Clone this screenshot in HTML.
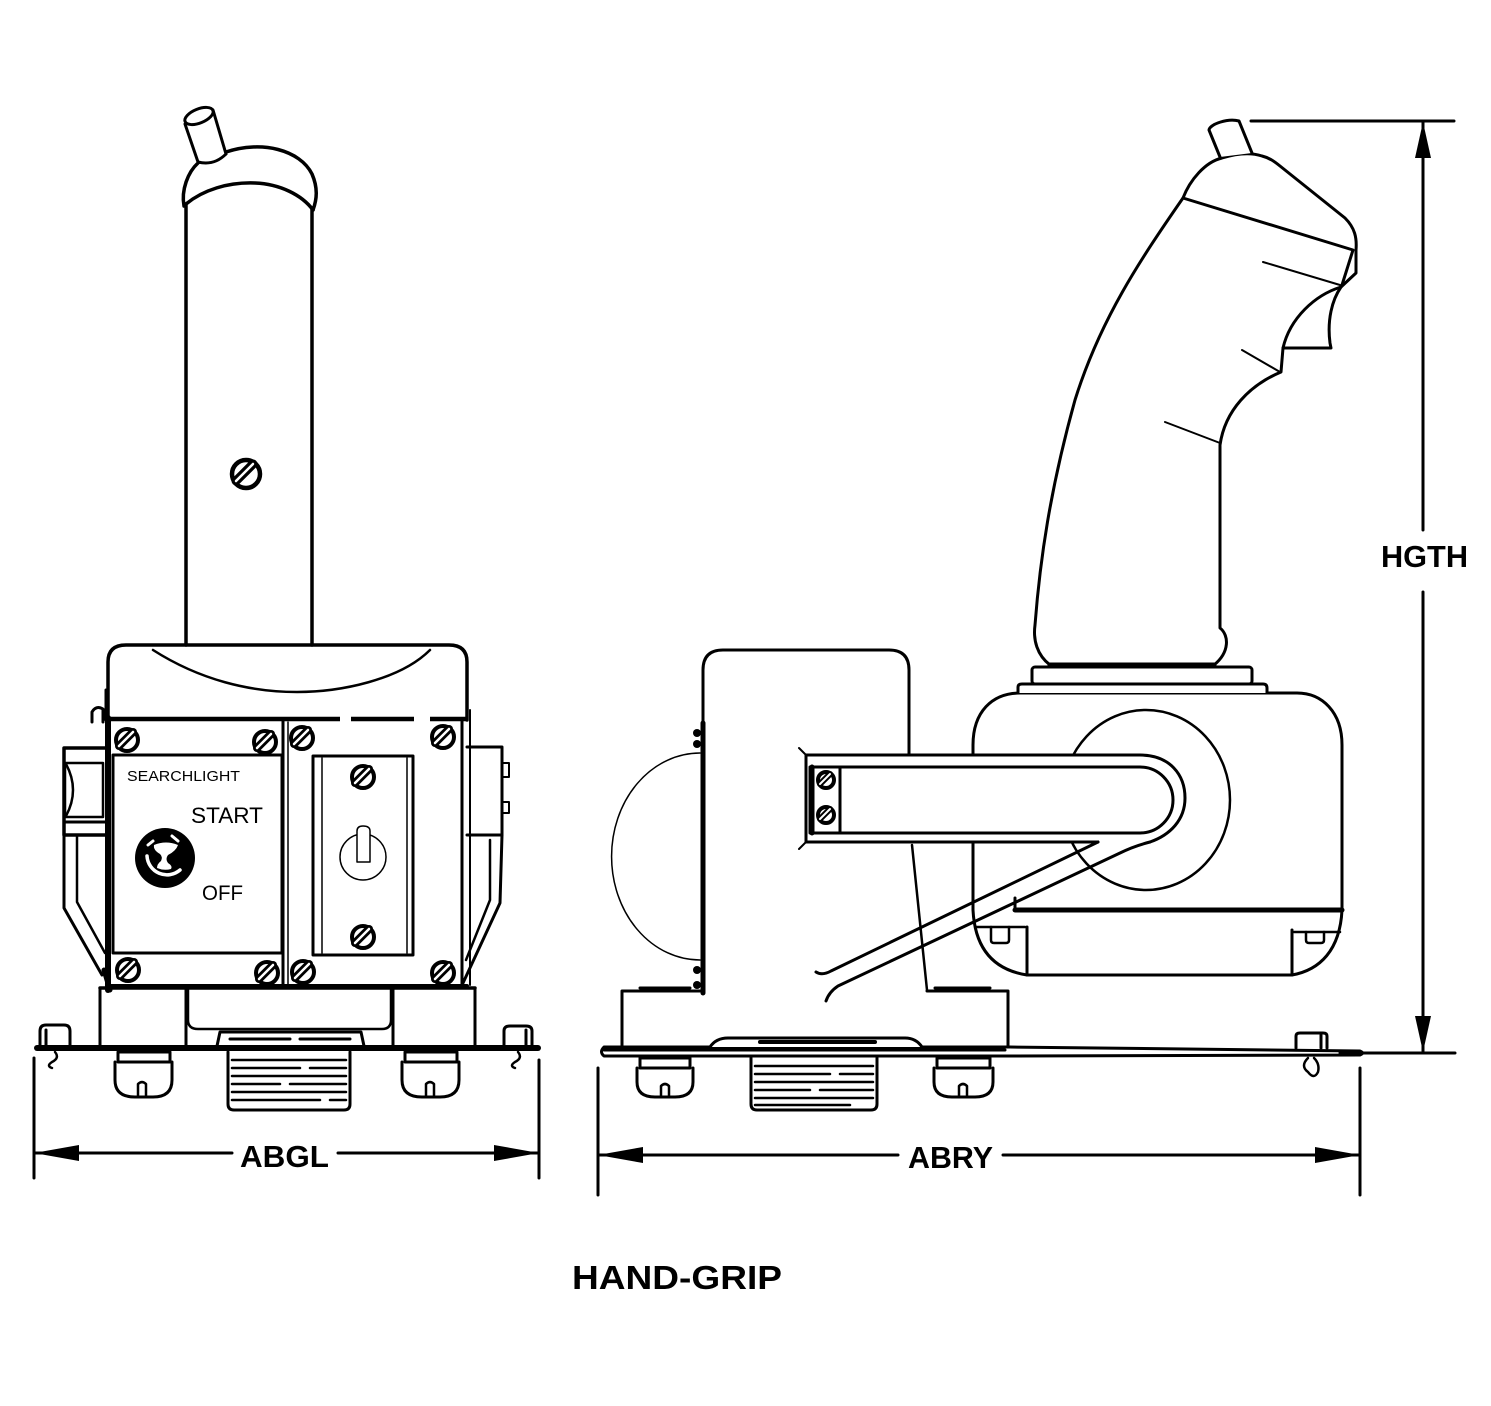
<!DOCTYPE html>
<html><head><meta charset="utf-8"><style>
html,body{margin:0;padding:0;background:#fff;}
svg{display:block;}
text{font-family:"Liberation Sans",Arial,sans-serif;}
</style></head><body>
<svg width="1491" height="1406" viewBox="0 0 1491 1406" xmlns="http://www.w3.org/2000/svg">
<rect width="1491" height="1406" fill="#fff"/>
<g fill="none" stroke="#000" stroke-width="3" stroke-linejoin="round" stroke-linecap="round">

<!-- ================= LEFT DEVICE ================= -->
<!-- pin -->
<path d="M198,162 L185,124 M226,154 L213,110"/>
<ellipse cx="199" cy="116" rx="15" ry="7" transform="rotate(-22 199 116)"/>
<path d="M198,162 Q214,166 226,154"/>
<!-- dome cap -->
<path d="M184,206 C181,190 188,172 198,163" stroke-width="3.5"/>
<path d="M226,152 C262,140 300,150 312,174 C318,188 317,199 313,210" stroke-width="3.5"/>
<path d="M186,204 C203,190 228,182 255,183 C280,184 302,195 313,210" stroke-width="3.5"/>
<!-- tube -->
<path d="M186,204 L186,645 M312,208 L312,645" stroke-width="3.5"/>
<!-- tube screw -->
<g transform="translate(246,474)">
<circle r="14" fill="#fff" stroke-width="4.5"/>
<line x1="-10" y1="7" x2="7" y2="-10" stroke-width="9"/>
<line x1="-10" y1="7" x2="7" y2="-10" stroke="#fff" stroke-width="2.5"/>
</g>

<!-- housing top -->
<path d="M108,720 L108,662 Q108,645 126,645 L449,645 Q467,645 467,662 L467,720" stroke-width="3.5"/>
<path d="M153,650 C200,680 250,692 297,692 C340,692 400,680 430,650" stroke-width="2.5"/>
<path d="M108,719 L340,719 M351,719 L414,719 M430,719 L467,719" stroke-width="4.5" stroke-linecap="butt"/>

<!-- brackets left -->
<path d="M106,690 L106,720" stroke-width="3"/>
<path d="M92,722 L92,712 Q96,705 103,709 L103,722" stroke-width="3"/>
<path d="M106,748 L64,748 L64,835 L106,835" stroke-width="3.5"/>
<rect x="65" y="763" width="38" height="54" stroke-width="2.5"/>
<path d="M66,764 Q80,790 66,816" stroke-width="2.5"/>
<path d="M64,822 L106,822" stroke-width="3"/>
<path d="M64,835 L64,908 L102,975" stroke-width="3"/>
<path d="M77,837 L77,902 L105,953" stroke-width="2.5"/>
<!-- brackets right -->
<path d="M470,710 L470,985" stroke-width="2"/>
<path d="M467,747 L502,747 L502,835 L467,835" stroke-width="3"/>
<path d="M502,763 L509,763 L509,777 L502,777 M502,802 L509,802 L509,813 L502,813" stroke-width="2"/>
<path d="M502,835 L500,903 L463,983" stroke-width="3"/>
<path d="M490,840 L490,900 L466,960" stroke-width="2.5"/>

<!-- frame -->
<path d="M108,718 L108,990" stroke-width="6"/>
<path d="M462,720 L462,988" stroke-width="3"/>
<path d="M283,720 L283,988" stroke-width="3"/>
<path d="M288,722 L288,986" stroke-width="1.5"/>
<path d="M104,970 L110,990" stroke-width="5"/>
<!-- left panel -->
<rect x="113" y="755" width="169" height="198" fill="#fff" stroke-width="3"/>
<!-- right panel inner -->
<rect x="313" y="756" width="100" height="199" stroke-width="3"/>
<path d="M322,758 L322,953 M407,758 L407,953" stroke-width="1.5"/>
<!-- toggle -->
<circle cx="363" cy="857" r="23" stroke-width="1.5"/>
<path d="M357,862 L357,831 Q357,826 363,826 Q370,826 370,831 L370,862 Z" fill="#fff" stroke-width="1.5"/>
<!-- key switch -->
<circle cx="165" cy="858" r="30" fill="#000" stroke="none"/>
<path d="M154,845 Q166,840 178,845 Q176,851 168,855 Q165,859 168,863 Q173,866 171,869 Q164,871 157,868 Q157,864 161,861 Q163,857 160,854 Q153,850 154,845 Z" fill="#fff" stroke="none"/>
<path d="M147,856 A20,20 0 0 0 180,870" stroke="#fff" stroke-width="3.5"/>
<path d="M148,845 L153,841" stroke="#fff" stroke-width="3"/>
<path d="M172,836 L178,841" stroke="#fff" stroke-width="3"/>
<!-- frame bottom -->
<path d="M108,986 L467,986" stroke-width="4"/>

<!-- screws left device -->
<g stroke-width="4">
<g transform="translate(127,740)"><circle r="11" fill="#fff"/><line x1="-8" y1="6" x2="6" y2="-8" stroke-width="8"/><line x1="-8" y1="6" x2="6" y2="-8" stroke="#fff" stroke-width="2.5"/></g>
<g transform="translate(265,742)"><circle r="11" fill="#fff"/><line x1="-8" y1="6" x2="6" y2="-8" stroke-width="8"/><line x1="-8" y1="6" x2="6" y2="-8" stroke="#fff" stroke-width="2.5"/></g>
<g transform="translate(128,970)"><circle r="11" fill="#fff"/><line x1="-8" y1="6" x2="6" y2="-8" stroke-width="8"/><line x1="-8" y1="6" x2="6" y2="-8" stroke="#fff" stroke-width="2.5"/></g>
<g transform="translate(267,973)"><circle r="11" fill="#fff"/><line x1="-8" y1="6" x2="6" y2="-8" stroke-width="8"/><line x1="-8" y1="6" x2="6" y2="-8" stroke="#fff" stroke-width="2.5"/></g>
<g transform="translate(302,738)"><circle r="11" fill="#fff"/><line x1="-8" y1="6" x2="6" y2="-8" stroke-width="8"/><line x1="-8" y1="6" x2="6" y2="-8" stroke="#fff" stroke-width="2.5"/></g>
<g transform="translate(443,737)"><circle r="11" fill="#fff"/><line x1="-8" y1="6" x2="6" y2="-8" stroke-width="8"/><line x1="-8" y1="6" x2="6" y2="-8" stroke="#fff" stroke-width="2.5"/></g>
<g transform="translate(303,972)"><circle r="11" fill="#fff"/><line x1="-8" y1="6" x2="6" y2="-8" stroke-width="8"/><line x1="-8" y1="6" x2="6" y2="-8" stroke="#fff" stroke-width="2.5"/></g>
<g transform="translate(443,973)"><circle r="11" fill="#fff"/><line x1="-8" y1="6" x2="6" y2="-8" stroke-width="8"/><line x1="-8" y1="6" x2="6" y2="-8" stroke="#fff" stroke-width="2.5"/></g>
<g transform="translate(363,777)"><circle r="11" fill="#fff"/><line x1="-8" y1="6" x2="6" y2="-8" stroke-width="8"/><line x1="-8" y1="6" x2="6" y2="-8" stroke="#fff" stroke-width="2.5"/></g>
<g transform="translate(363,937)"><circle r="11" fill="#fff"/><line x1="-8" y1="6" x2="6" y2="-8" stroke-width="8"/><line x1="-8" y1="6" x2="6" y2="-8" stroke="#fff" stroke-width="2.5"/></g>
</g>

<!-- base -->
<path d="M100,988 L475,988" stroke-width="3.5"/>
<path d="M100,988 L100,1046 M186,988 L186,1046 M393,988 L393,1046 M475,988 L475,1046" stroke-width="3"/>
<path d="M188,990 L188,1020 Q188,1029 198,1029 L382,1029 Q391,1029 391,1020 L391,990" stroke-width="2.5"/>
<path d="M217,1046 L220,1032 L361,1032 L364,1046" stroke-width="3"/>
<path d="M230,1039 L290,1039 M300,1039 L350,1039" stroke-width="3"/>
<!-- clips -->
<path d="M40,1046 L40,1031 Q40,1025 46,1025 L64,1025 Q70,1025 70,1031 L70,1046 M46,1030 L46,1046" stroke-width="3"/>
<path d="M504,1046 L504,1031 Q504,1026 510,1026 L526,1026 Q532,1026 532,1031 L532,1046 M526,1030 L526,1046" stroke-width="3"/>
<path d="M55,1052 Q60,1058 52,1062 Q46,1066 52,1068" stroke-width="2.5"/>
<path d="M518,1052 Q523,1058 515,1062 Q509,1066 515,1068" stroke-width="2.5"/>
<!-- plate -->
<path d="M37,1048 L538,1048" stroke-width="6"/>
<!-- screws under plate -->
<rect x="118" y="1052" width="52" height="10" stroke-width="3"/>
<path d="M115,1062 L115,1080 Q115,1097 135,1097 L153,1097 Q172,1097 172,1080 L172,1062" stroke-width="3"/>
<path d="M138,1097 L138,1084 Q142,1080 146,1084 L146,1097" stroke-width="2.5"/>
<rect x="405" y="1052" width="52" height="10" stroke-width="3"/>
<path d="M402,1062 L402,1080 Q402,1097 422,1097 L440,1097 Q459,1097 459,1080 L459,1062" stroke-width="3"/>
<path d="M426,1097 L426,1084 Q430,1080 434,1084 L434,1097" stroke-width="2.5"/>
<!-- connector thread -->
<path d="M228,1052 L228,1104 Q228,1110 234,1110 L344,1110 Q350,1110 350,1104 L350,1052" stroke-width="3"/>
<path d="M232,1060 L346,1060 M232,1068 L300,1068 M310,1068 L346,1068 M232,1076 L346,1076 M232,1084 L280,1084 M290,1084 L346,1084 M232,1092 L346,1092 M232,1100 L320,1100 M330,1100 L346,1100" stroke-width="2.5"/>

<!-- ================= RIGHT DEVICE ================= -->
<!-- dome half ellipse -->
<path d="M700,753 A88,103 0 0 0 700,960" stroke-width="1.5"/>
<!-- column -->
<path d="M703,990 L703,670 Q703,650 723,650 L889,650 Q909,650 909,670 L909,755" stroke-width="3"/>
<path d="M703,723 L703,993" stroke-width="5"/>
<circle cx="697" cy="733" r="4" fill="#000" stroke="none"/>
<circle cx="697" cy="744" r="4" fill="#000" stroke="none"/>
<circle cx="697" cy="970" r="4" fill="#000" stroke="none"/>
<circle cx="697" cy="985" r="4" fill="#000" stroke="none"/>
<path d="M912,845 L927,990" stroke-width="2.5"/>
<!-- base block -->
<path d="M622,1048 L622,991 L703,991 M927,991 L1008,991 L1008,1048" stroke-width="3"/>
<path d="M640,988 L690,988 M935,988 L990,988" stroke-width="3"/>

<!-- box -->
<path d="M973,910 L973,745 C973,712 992,693 1020,693 L1297,693 C1322,693 1342,712 1342,745 L1342,910 C1340,950 1320,970 1292,975 L1027,975 C995,970 975,950 973,910 Z" fill="#fff" stroke-width="3"/>
<path d="M1015,910 L1342,910" stroke-width="5"/>
<path d="M1015,898 L1015,910" stroke-width="3"/>
<path d="M1027,927 L1027,975 M1292,930 L1292,975" stroke-width="3"/>
<path d="M976,927 L1025,927 M1294,932 L1340,932" stroke-width="2.5"/>
<path d="M991,927 L991,940 Q991,943 994,943 L1006,943 Q1009,943 1009,940 L1009,927" stroke-width="2.5"/>
<path d="M1306,932 L1306,940 Q1306,943 1309,943 L1321,943 Q1324,943 1324,940 L1324,932" stroke-width="2.5"/>

<!-- collar -->
<path d="M1018,693 L1018,687 Q1018,684 1022,684 L1263,684 Q1267,684 1267,688 L1267,693" fill="#fff" stroke-width="3"/>
<rect x="1032" y="667" width="220" height="17" rx="3" fill="#fff" stroke-width="3"/>

<!-- grip -->
<path d="M1183,198 C1190,180 1205,162 1222,158 C1235,154 1250,152 1262,156 C1270,158 1275,162 1280,166 L1345,218 C1355,228 1357,238 1356,250 L1356,273 L1341,287 C1332,300 1327,320 1330,343 L1331,348 L1283,348 L1281,372 C1250,385 1225,410 1220,445 L1220,628 C1229,635 1230,652 1214,665 L1050,665 C1037,655 1033,640 1035,625 C1040,560 1050,490 1075,400 C1100,320 1140,260 1183,198 Z" fill="#fff" stroke-width="3"/>
<path d="M1050,665 L1214,665" stroke-width="5"/>
<path d="M1341,287 C1315,295 1290,318 1283,348" stroke-width="3"/>
<path d="M1183,198 L1353,250 M1353,250 L1342,285" stroke-width="3"/>
<path d="M1263,262 L1340,285 M1242,350 L1280,372 M1165,422 L1220,443" stroke-width="2"/>
<!-- grip pin -->
<path d="M1220,157 L1209,130 C1210,124 1228,118 1239,121 L1252,153" fill="#fff" stroke-width="3"/>

<!-- hub ellipse -->
<ellipse cx="1146" cy="800" rx="84" ry="90" stroke-width="2.5"/>

<!-- arm -->
<path d="M806,755 L1140,755 C1170,755 1185,775 1185,798 C1185,822 1168,838 1140,842 L806,842 Z" fill="#fff" stroke="none"/>
<path d="M806,755 L1140,755 C1170,755 1185,775 1185,798 C1185,820 1170,835 1150,842" stroke-width="3"/>
<path d="M806,842 L1098,842" stroke-width="3"/>
<path d="M838,767 L1140,767 A33,33 0 0 1 1140,833 L838,833" stroke-width="3"/>
<path d="M806,755 L806,842" stroke-width="3"/>
<path d="M799,748 L806,755 M799,849 L806,842" stroke-width="2"/>
<rect x="810" y="767" width="30" height="66" fill="#fff" stroke-width="3"/>
<path d="M812,767 L812,833" stroke-width="5"/>
<g stroke-width="4">
<g transform="translate(826,780)"><circle r="8" fill="#fff"/><line x1="-6" y1="4" x2="4" y2="-6" stroke-width="6"/><line x1="-6" y1="4" x2="4" y2="-6" stroke="#fff" stroke-width="2"/></g>
<g transform="translate(826,815)"><circle r="8" fill="#fff"/><line x1="-6" y1="4" x2="4" y2="-6" stroke-width="6"/><line x1="-6" y1="4" x2="4" y2="-6" stroke="#fff" stroke-width="2"/></g>
</g>
<!-- rods -->
<path d="M1098,842 L831,971 Q822,976 816,972" stroke-width="3"/>
<path d="M1150,842 C1138,845 1130,848 1120,853 L838,986 Q829,992 826,1001" stroke-width="3"/>

<!-- plate right -->
<path d="M604,1047 L1010,1047 L1360,1051 Q1365,1053 1360,1055 L1010,1056 L604,1056 Q599,1052 604,1047 Z" fill="#fff" stroke-width="3"/>
<path d="M604,1050 L1005,1050" stroke-width="3"/>
<!-- connector top -->
<path d="M710,1047 Q716,1038 728,1038 L905,1038 Q916,1038 922,1047" fill="#fff" stroke-width="3"/>
<path d="M760,1042 L875,1042" stroke-width="4"/>
<!-- clip -->
<path d="M1296,1048 L1296,1036 Q1296,1033 1300,1033 L1323,1033 Q1327,1033 1327,1036 L1327,1048 M1321,1035 L1321,1048" stroke-width="3"/>
<path d="M1308,1058 Q1300,1066 1308,1072 Q1314,1080 1318,1072 Q1320,1064 1314,1058" stroke-width="2.5"/>
<!-- screws under plate right -->
<rect x="640" y="1058" width="50" height="10" stroke-width="3"/>
<path d="M637,1068 L637,1082 Q637,1097 655,1097 L675,1097 Q693,1097 693,1082 L693,1068" stroke-width="3"/>
<path d="M661,1097 L661,1086 Q665,1082 669,1086 L669,1097" stroke-width="2.5"/>
<rect x="937" y="1058" width="53" height="10" stroke-width="3"/>
<path d="M934,1068 L934,1082 Q934,1097 952,1097 L975,1097 Q993,1097 993,1082 L993,1068" stroke-width="3"/>
<path d="M959,1097 L959,1086 Q963,1082 967,1086 L967,1097" stroke-width="2.5"/>
<!-- connector thread right -->
<path d="M751,1058 L751,1104 Q751,1110 757,1110 L871,1110 Q877,1110 877,1104 L877,1058" stroke-width="3"/>
<path d="M755,1066 L873,1066 M755,1074 L830,1074 M840,1074 L873,1074 M755,1082 L873,1082 M755,1090 L810,1090 M820,1090 L873,1090 M755,1098 L873,1098 M755,1105 L850,1105" stroke-width="2.5"/>

<!-- ================= DIMENSIONS ================= -->
<path d="M34,1058 L34,1178 M539,1060 L539,1178" stroke-width="3"/>
<path d="M34,1153 L232,1153 M338,1153 L539,1153" stroke-width="3"/>
<path d="M598,1068 L598,1195 M1360,1068 L1360,1195" stroke-width="3"/>
<path d="M598,1155 L898,1155 M1003,1155 L1360,1155" stroke-width="3"/>
<path d="M1251,121 L1454,121 M1340,1053 L1455,1053" stroke-width="3"/>
<path d="M1423,121 L1423,530 M1423,592 L1423,1053" stroke-width="3"/>
</g>

<!-- arrowheads -->
<g fill="#000" stroke="none">
<polygon points="34,1153 79,1145 79,1161"/>
<polygon points="539,1153 494,1145 494,1161"/>
<polygon points="598,1155 643,1147 643,1163"/>
<polygon points="1360,1155 1315,1147 1315,1163"/>
<polygon points="1423,122 1415,158 1431,158"/>
<polygon points="1423,1052 1415,1016 1431,1016"/>
</g>

<!-- labels -->
<g fill="#000">
<text x="127" y="781" font-size="15" textLength="113" lengthAdjust="spacingAndGlyphs">SEARCHLIGHT</text>
<text x="191" y="823" font-size="22" textLength="72" lengthAdjust="spacingAndGlyphs">START</text>
<text x="202" y="900" font-size="21" textLength="41" lengthAdjust="spacingAndGlyphs">OFF</text>
<text x="240" y="1167" font-size="31" font-weight="bold" textLength="89" lengthAdjust="spacingAndGlyphs">ABGL</text>
<text x="908" y="1168" font-size="31" font-weight="bold" textLength="85" lengthAdjust="spacingAndGlyphs">ABRY</text>
<text x="1381" y="567" font-size="31" font-weight="bold" textLength="87" lengthAdjust="spacingAndGlyphs">HGTH</text>
<text x="572" y="1289" font-size="33" font-weight="bold" textLength="210" lengthAdjust="spacingAndGlyphs">HAND-GRIP</text>
</g>
</svg>
</body></html>
